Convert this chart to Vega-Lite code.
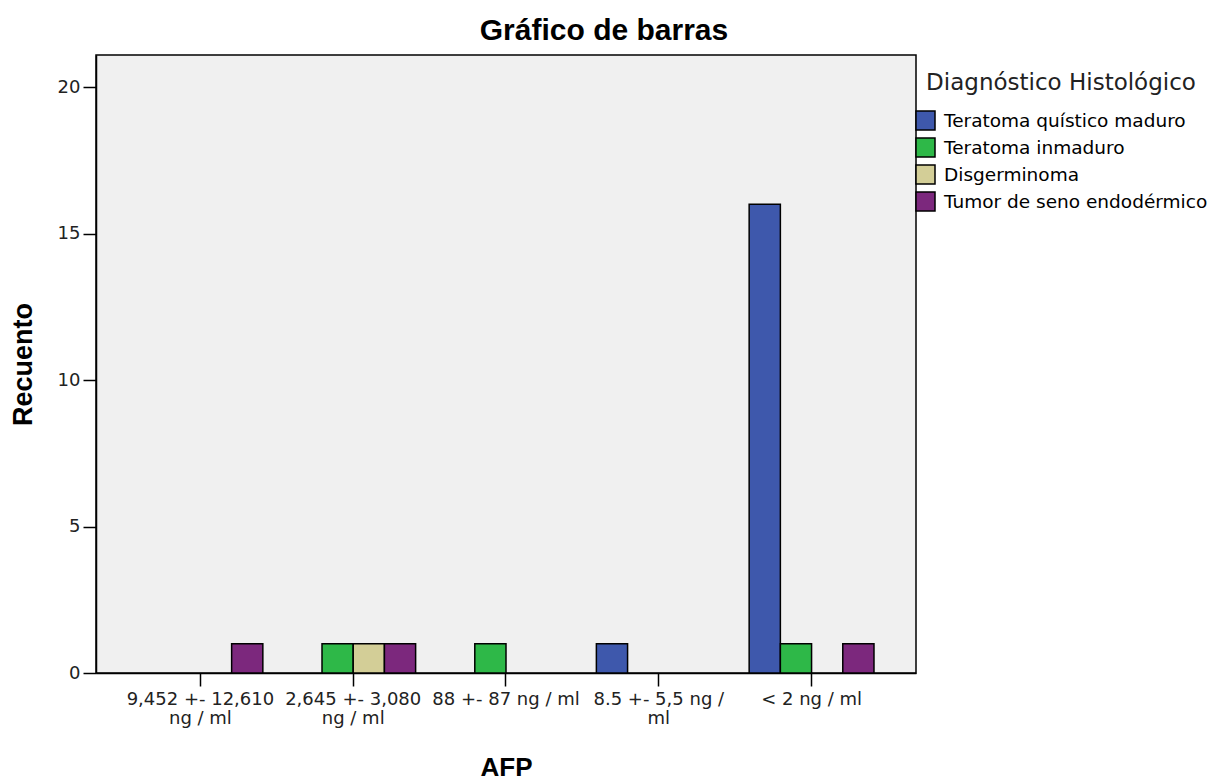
{
  "$schema": "https://vega.github.io/schema/vega-lite/v6.json",
  "width": 820,
  "height": 618,
  "autosize": {"type": "none"},
  "padding": {"left": 96, "top": 55, "right": 302, "bottom": 108},
  "background": "white",
  "title": {
    "text": "Gráfico de barras",
    "font": "Liberation Sans",
    "fontSize": 30,
    "fontWeight": "bold",
    "color": "black",
    "anchor": "middle",
    "dx": 98,
    "dy": 30,
    "offset": 9,
    "baseline": "bottom"
  },
  "data": {
    "values": [
      {"afp": "9,452 +- 12,610|ng / ml", "diag": "Tumor de seno endodérmico", "count": 1},
      {"afp": "2,645 +- 3,080|ng / ml", "diag": "Teratoma inmaduro", "count": 1},
      {"afp": "2,645 +- 3,080|ng / ml", "diag": "Disgerminoma", "count": 1},
      {"afp": "2,645 +- 3,080|ng / ml", "diag": "Tumor de seno endodérmico", "count": 1},
      {"afp": "88 +- 87 ng / ml", "diag": "Teratoma inmaduro", "count": 1},
      {"afp": "8.5 +- 5,5 ng /|ml", "diag": "Teratoma quístico maduro", "count": 1},
      {"afp": "< 2 ng / ml", "diag": "Teratoma quístico maduro", "count": 16},
      {"afp": "< 2 ng / ml", "diag": "Teratoma inmaduro", "count": 1},
      {"afp": "< 2 ng / ml", "diag": "Tumor de seno endodérmico", "count": 1}
    ]
  },
  "mark": {"type": "bar", "stroke": "black", "strokeWidth": 1.5, "fillOpacity": 1},
  "encoding": {
    "x": {
      "field": "afp",
      "type": "nominal",
      "title": "AFP",
      "scale": {
        "domain": ["9,452 +- 12,610|ng / ml", "2,645 +- 3,080|ng / ml", "88 +- 87 ng / ml", "8.5 +- 5,5 ng /|ml", "< 2 ng / ml"],
        "paddingInner": 0.183,
        "paddingOuter": 0.275
      },
      "axis": {
        "labelExpr": "split(datum.label, '|')",
        "labelAngle": 0,
        "labelFont": "DejaVu Sans",
        "labelFontSize": 18,
        "labelLineHeight": 19,
        "labelColor": "#222222",
        "labelPadding": 4,
        "labelLimit": 300,
        "tickSize": 13,
        "tickColor": "black",
        "tickWidth": 1.5,
        "domainColor": "black",
        "domainWidth": 1.5,
        "titleFont": "Liberation Sans",
        "titleFontSize": 26,
        "titleFontWeight": "bold",
        "titleColor": "black",
        "titlePadding": 27
      }
    },
    "xOffset": {
      "field": "diag",
      "type": "nominal",
      "scale": {
        "domain": ["Teratoma quístico maduro", "Teratoma inmaduro", "Disgerminoma", "Tumor de seno endodérmico"],
        "paddingInner": 0,
        "paddingOuter": 0
      }
    },
    "y": {
      "field": "count",
      "type": "quantitative",
      "title": "Recuento",
      "scale": {"domain": [0, 21.1], "nice": false},
      "axis": {
        "values": [0, 5, 10, 15, 20],
        "grid": false,
        "labelFont": "DejaVu Sans",
        "labelFontSize": 18,
        "labelColor": "#222222",
        "labelPadding": 3,
        "tickSize": 13,
        "tickColor": "black",
        "tickWidth": 1.5,
        "domainColor": "black",
        "domainWidth": 1.5,
        "titleFont": "Liberation Sans",
        "titleFontSize": 27,
        "titleFontWeight": "bold",
        "titleColor": "black",
        "titlePadding": 20
      }
    },
    "color": {
      "field": "diag",
      "type": "nominal",
      "title": "Diagnóstico Histológico",
      "scale": {
        "domain": ["Teratoma quístico maduro", "Teratoma inmaduro", "Disgerminoma", "Tumor de seno endodérmico"],
        "range": ["#3E58AC", "#2EB848", "#D3CE97", "#7C287D"]
      },
      "legend": {
        "orient": "none",
        "legendX": 819,
        "legendY": 17,
        "padding": 0,
        "symbolType": "square",
        "symbolSize": 361,
        "symbolStrokeColor": "black",
        "symbolStrokeWidth": 1.5,
        "symbolOpacity": 1,
        "labelFont": "DejaVu Sans",
        "labelFontSize": 18.5,
        "labelColor": "black",
        "labelOffset": 8,
        "labelLimit": 400,
        "rowPadding": 2,
        "titleFont": "DejaVu Sans",
        "titleFontSize": 23,
        "titleFontWeight": "normal",
        "titleColor": "#222222",
        "titleAnchor": "middle",
        "titlePadding": 15,
        "titleLimit": 400
      }
    }
  },
  "config": {
    "view": {"stroke": "black", "strokeWidth": 1.5, "fill": "#F0F0F0"}
  }
}
